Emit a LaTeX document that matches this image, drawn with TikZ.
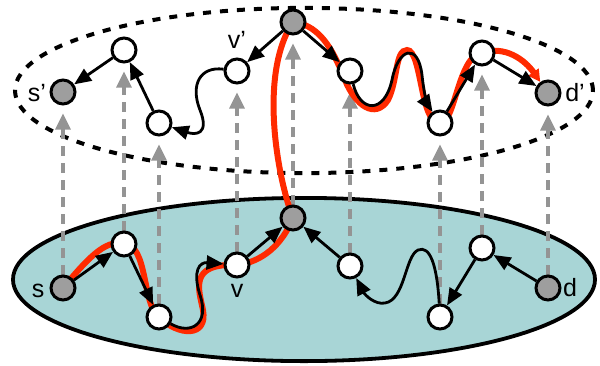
\documentclass[tikz,border=0pt]{standalone}
\usepackage{fontspec}
\setmainfont{Liberation Sans}
\usetikzlibrary{arrows.meta,backgrounds}
\definecolor{capa}{HTML}{A8D5D6}
\definecolor{ruta}{HTML}{FF2A00}
\tikzset{
  blanco/.style={circle,draw,line width=1.5pt,fill=white,minimum size=12pt,inner sep=0pt},
  gris/.style={blanco,fill=black!38},
  arista/.style={line width=1.4pt,-{Triangle[length=8.5pt,width=7pt]}},
  proy/.style={line width=1.6pt,black!42,dash pattern=on 5pt off 3.5pt,shorten >=4pt,-{Triangle[length=8pt,width=7.5pt]}},
  camino/.style={line width=3pt,ruta,-{Triangle[length=6pt,width=6pt]}},
  etiq/.style={font=\fontsize{12.5}{12.5}\selectfont,inner sep=0pt}
}
\begin{document}
\begin{tikzpicture}[x=0.5pt,y=-0.5pt]
    \useasboundingbox (0,0) rectangle (600,365);
    % Nodos de la capa superior
    \node[gris] (sp) at (63,92) {};
    \node[blanco] (a1) at (124,50) {};
    \node[blanco] (a2) at (159,123) {};
    \node[blanco] (vp) at (237,71) {};
    \node[gris] (tp) at (293,22) {};
    \node[blanco] (b1) at (350,71) {};
    \node[blanco] (b2) at (440,123) {};
    \node[blanco] (b3) at (482,53) {};
    \node[gris] (dp) at (548,93) {};
    % Nodos de la capa inferior
    \node[gris] (s) at (63,288) {};
    \node[blanco] (c1) at (124,244) {};
    \node[blanco] (c2) at (159,317) {};
    \node[blanco] (v) at (237,265) {};
    \node[gris] (ctr) at (293,218) {};
    \node[blanco] (e1) at (350,266) {};
    \node[blanco] (e2) at (440,317) {};
    \node[blanco] (e3) at (482,248) {};
    \node[gris] (d) at (548,288) {};
    % Etiquetas
    \node[etiq] (lsp) at (37,93) {s’};
    \node[etiq] (lvp) at (237,40) {v’};
    \node[etiq] (ldp) at (575,93) {d’};
    \node[etiq] (ls) at (38,291) {s};
    \node[etiq] (lv) at (237,291) {v};
    \node[etiq] (ld) at (570,288) {d};
    \begin{scope}[on background layer]
        % Elipses de las dos capas
        \filldraw[fill=capa,line width=1.9pt] (304,279.5) ellipse [x radius=145.5pt, y radius=40.8pt];
        \draw[line width=2pt,dash pattern=on 4pt off 4.5pt] (304,90.5) ellipse [x radius=144.5pt, y radius=41.3pt];
        % Proyecciones hacia arriba
        \draw[proy] (s) -- (sp);
        \draw[proy] (c1) -- (a1);
        \draw[proy] (c2) -- (a2);
        \draw[proy] (v) -- (vp);
        \draw[proy] (ctr) -- (tp);
        \draw[proy] (e1) -- (b1);
        \draw[proy] (e2) -- (b2);
        \draw[proy] (e3) -- (b3);
        \draw[proy] (d) -- (dp);
        % Camino rojo de s a d'
        \draw[camino] (s.center) .. controls (85,262) and (105,238) .. (c1.center)
            .. controls (148,244) and (142,305) .. (c2.center)
            .. controls (178,336) and (208,338) .. (203,310)
            .. controls (199,290) and (188,263) .. (v.center)
            .. controls (262,262) and (282,245) .. (ctr.center)
            .. controls (278,180) and (258,75) .. (tp.center)
            .. controls (322,25) and (335,55) .. (345,80)
            .. controls (355,105) and (375,120) .. (388,100)
            .. controls (398,80) and (395,50) .. (407,50)
            .. controls (422,50) and (420,125) .. (b2.center)
            .. controls (455,125) and (458,55) .. (b3.center)
            .. controls (505,45) and (525,60) .. (dp);
    \end{scope}
    % Aristas de la capa superior
    \draw[arista] (a1) -- (sp);
    \draw[arista] (a2) -- (a1);
    \draw[arista] (vp) .. controls (200,66) and (190,85) .. (200,110) .. controls (210,135) and (195,135) .. (a2);
    \draw[arista] (tp) -- (vp);
    \draw[arista] (tp) -- (b1);
    \draw[arista] (b1) .. controls (360,112) and (384,115) .. (392,80) .. controls (398,48) and (418,42) .. (422,75) .. controls (424,95) and (428,105) .. (b2);
    \draw[arista] (b2) -- (b3);
    \draw[arista] (b3) -- (dp);
    % Aristas de la capa inferior
    \draw[arista] (s) -- (c1);
    \draw[arista] (c1) -- (c2);
    \draw[arista] (c2) .. controls (190,335) and (210,325) .. (200,295) .. controls (192,270) and (200,262) .. (v);
    \draw[arista] (v) -- (ctr);
    \draw[arista] (e1) -- (ctr);
    \draw[arista] (e2) .. controls (437,265) and (430,245) .. (418,250) .. controls (405,256) and (405,300) .. (385,303) .. controls (375,305) and (365,295) .. (e1);
    \draw[arista] (e3) -- (e2);
    \draw[arista] (d) -- (e3);
\end{tikzpicture}
\end{document}
